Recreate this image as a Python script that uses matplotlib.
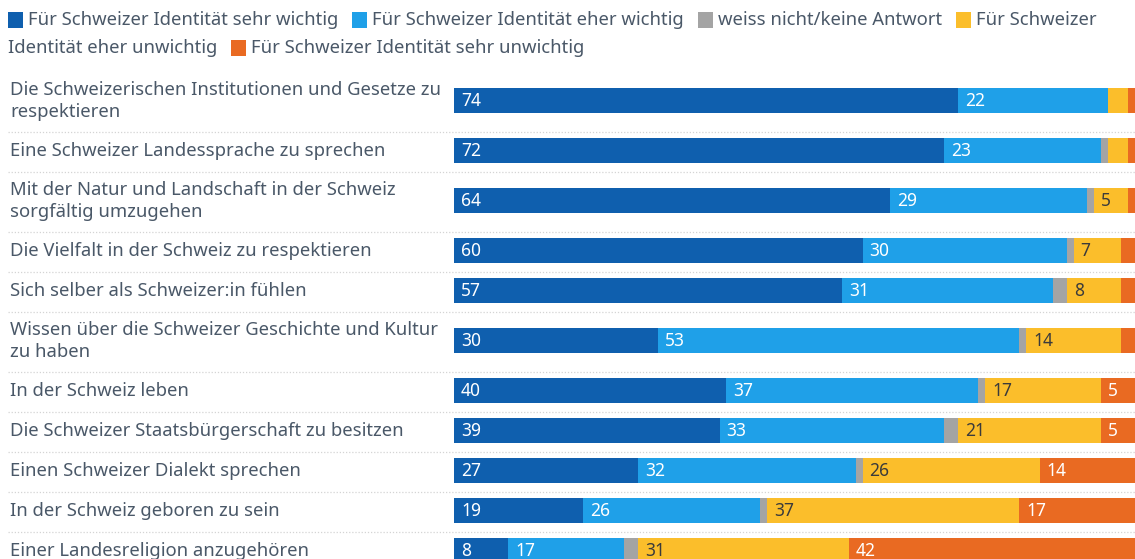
import matplotlib.pyplot as plt
import matplotlib.transforms as mtransforms
from matplotlib.patches import Rectangle

plt.rcParams['font.family'] = ['Noto Sans', 'DejaVu Sans']

# Data (percent)
categories = [
    "Die Schweizerischen Institutionen und Gesetze zu\nrespektieren",
    "Eine Schweizer Landessprache zu sprechen",
    "Mit der Natur und Landschaft in der Schweiz\nsorgfältig umzugehen",
    "Die Vielfalt in der Schweiz zu respektieren",
    "Sich selber als Schweizer:in fühlen",
    "Wissen über die Schweizer Geschichte und Kultur\nzu haben",
    "In der Schweiz leben",
    "Die Schweizer Staatsbürgerschaft zu besitzen",
    "Einen Schweizer Dialekt sprechen",
    "In der Schweiz geboren zu sein",
    "Einer Landesreligion anzugehören",
]
sehr_wichtig = [74, 72, 64, 60, 57, 30, 40, 39, 27, 19, 8]
eher_wichtig = [22, 23, 29, 30, 31, 53, 37, 33, 32, 26, 17]
weiss_nicht = [0, 1, 1, 1, 2, 1, 1, 2, 1, 1, 2]
eher_unwichtig = [3, 3, 5, 7, 8, 14, 17, 21, 26, 37, 31]
sehr_unwichtig = [1, 1, 1, 2, 2, 2, 5, 5, 14, 17, 42]

series_names = [
    "Für Schweizer Identität sehr wichtig",
    "Für Schweizer Identität eher wichtig",
    "weiss nicht/keine Antwort",
    "Für Schweizer Identität eher unwichtig",
    "Für Schweizer Identität sehr unwichtig",
]
series = [sehr_wichtig, eher_wichtig, weiss_nicht, eher_unwichtig, sehr_unwichtig]
colors = ["#0f5fae", "#1fa0e8", "#a4a4a4", "#fbbe2b", "#e96a22"]
label_colors = ["white", "white", "white", "#3b3b3b", "white"]

W, H = 1135, 559
TXT = "#4a5868"
FS = 13.3

fig = plt.figure(figsize=(W / 100, H / 100), dpi=100)
ax = fig.add_axes([454 / W, 0, 681 / W, 1])
ax.set_xlim(0, 100)
ax.set_ylim(H, 0)
ax.axis("off")

# row layout: one-line rows 40px, two-line rows 60px
centers = []
bounds = []
y = 72
for c in categories:
    h = 40 + 20 * c.count("\n")
    centers.append(y + h / 2)
    y += h
    bounds.append(y)

lab_trans = mtransforms.blended_transform_factory(fig.transFigure, ax.transData)

for i, cat in enumerate(categories):
    fig.text(10 / W, centers[i] - 1, cat, transform=lab_trans, fontsize=FS,
             color=TXT, va="center", ha="left", linespacing=1.25)
    left = 0
    for s, vals in enumerate(series):
        v = vals[i]
        ax.barh(centers[i] - 1.5, v, left=left, height=25, color=colors[s],
                linewidth=0)
        if v >= 4:
            ax.annotate(str(v), (left, centers[i] - 1), xytext=(5, 0),
                        textcoords="offset points", va="center", ha="left",
                        fontsize=12.5, color=label_colors[s])
        left += v

# dotted separators between rows
for b in bounds[:-1]:
    fig.add_artist(plt.Line2D([8 / W, 1], [1 - b / H, 1 - b / H],
                              color="#d4d4d4", linestyle=(0, (1, 1.5)),
                              linewidth=0.9))

# legend as flowing, wrapping text
renderer = fig.canvas.get_renderer()


def text_w(s):
    t = fig.text(0, 0, s, fontsize=FS)
    w = t.get_window_extent(renderer).width
    t.remove()
    return w


line_y = [20, 48]
x, line = 8, 0
right = 1128
box_w, box_h, box_gap, item_gap = 15, 16, 5, 14
for name, col in zip(series_names, colors):
    words = name.split(" ")
    if x + box_w + box_gap + text_w(words[0]) > right:
        line += 1
        x = 8
    fig.add_artist(Rectangle(((x) / W, 1 - (line_y[line] + box_h / 2) / H),
                             box_w / W, box_h / H, transform=fig.transFigure,
                             color=col, linewidth=0))
    x += box_w + box_gap
    cur = ""
    for w in words:
        cand = (cur + " " + w) if cur else w
        if x + text_w(cand) > right and cur:
            fig.text(x / W, 1 - line_y[line] / H, cur, fontsize=FS, color=TXT,
                     va="center", ha="left")
            line += 1
            x = 8
            cur = w
        else:
            cur = cand
    fig.text(x / W, 1 - line_y[line] / H, cur, fontsize=FS, color=TXT,
             va="center", ha="left")
    x += text_w(cur) + item_gap

fig.savefig("out.png", dpi=100)
